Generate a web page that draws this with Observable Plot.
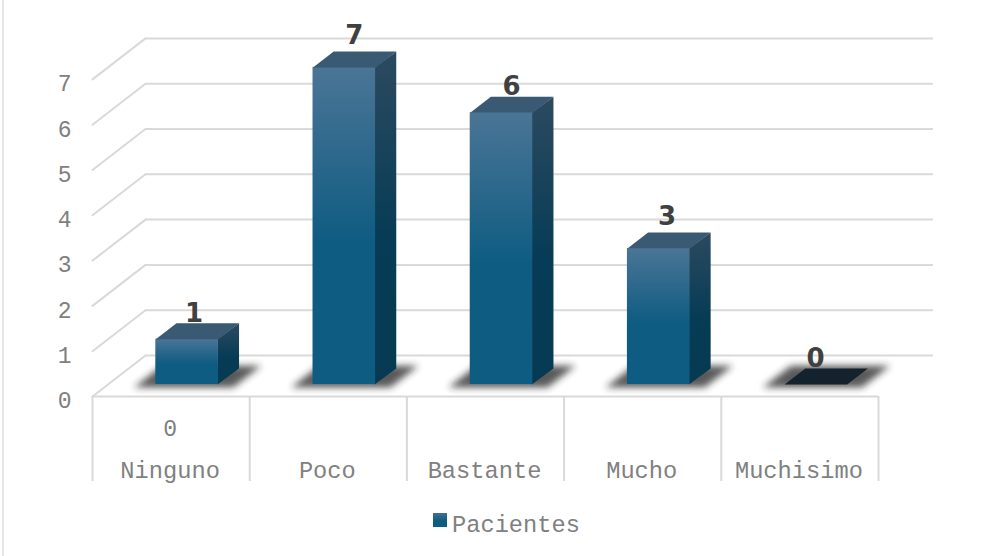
<!DOCTYPE html>
<html><head><meta charset="utf-8">
<script src="https://cdn.jsdelivr.net/npm/d3@7"></script>
<script src="https://cdn.jsdelivr.net/npm/@observablehq/plot@0.6"></script>
<style>
html,body{margin:0;padding:0;background:#fff;}
#page{position:relative;width:999px;height:556px;overflow:hidden;}
#edge{position:absolute;left:2px;top:0;bottom:0;width:2px;background:#e6e6e6;}
svg{display:block;}
#legend{position:absolute;left:433px;top:512px;display:flex;align-items:center;font:23.7px "Liberation Mono",monospace;color:#808080;}
#legend i{display:block;width:14px;height:14px;margin-right:5px;margin-top:-11px;background:linear-gradient(#436f90,#0f5c82 55%);}
</style></head><body>
<div id="page"><div id="edge"></div><div id="chart"></div>
<div id="legend"><i></i><span>Pacientes</span></div></div>
<script>
const categories = ["Ninguno","Poco","Bastante","Mucho","Muchisimo"];
const pacientes = [1,7,6,3,0];
const valueTicks = [0,1,2,3,4,5,6,7];
const seriesName = "Pacientes";
const zeroRow = ["0"];

// oblique projection: depth d in [0,1] moves a point up and to the right
const KX = 53/157.2, KY = 41/45.3;
const P = (u,v,d) => ({x:u+d*KX, y:v+d*KY});
const BAR0=0.304, BAR1=0.702, D0=0.293, D1=0.683;

const poly=(id,pts,extra={})=>pts.map(p=>({id,...p,...extra}));
const frontFaces=[],sideFaces=[],topFaces=[],shadows=[],slants=[];
pacientes.forEach((v,i)=>{
  const a=i+BAR0,b=i+BAR1,s=b-0.006;
  if(v>0){
    frontFaces.push({x1:P(a,0,D0).x,x2:P(b,0,D0).x,y1:P(a,0,D0).y,y2:P(a,v,D0).y});
    sideFaces.push(...poly(i,[P(s,0,D0),P(b,0,D1),P(b,v,D1),P(s,v,D0),P(s,0,D0)]));
  }
  topFaces.push(...poly(i,[P(a,v,D0),P(b,v,D0),P(b,v,D1),P(a,v,D1),P(a,v,D0)],{tone:v>0?"#3a5a73":"#14222e"}));
  const s0=i+0.19,s1=i+0.82;
  shadows.push(...poly(i,[P(s0,0,0.22),P(s1,0,0.22),P(s1,0,0.75),P(s0,0,0.75),P(s0,0,0.22)]));
});
valueTicks.forEach(v=>slants.push(...poly(v,[P(0,v,0),P(0,v,1)])));

const labelNudgeX=[-0.02,0,0,-0.01,-0.065];
const labelLift=[0.395,0.53,0.385,0.53,0.39];
const labels=pacientes.map((v,i)=>{
  const p=P(i+0.5,v,0.49);
  return {x:p.x+labelNudgeX[i],y:p.y+labelLift[i],t:String(v)};
});

const defs=()=>{
  const d=d3.create("svg:defs");
  const g=(id,stops)=>{const l=d.append("linearGradient").attr("id",id).attr("x1",0).attr("y1",0).attr("x2",0).attr("y2",1);
    stops.forEach(([o,c])=>l.append("stop").attr("offset",o).attr("stop-color",c));};
  g("gf",[[0,"#4a7596"],[0.55,"#0f5c82"],[1,"#0f5c82"]]);
  g("gs",[[0,"#2c4a60"],[0.55,"#073c56"],[1,"#063a52"]]);
  d.append("filter").attr("id","blur").attr("x","-20%").attr("y","-40%").attr("width","140%").attr("height","180%")
    .append("feGaussianBlur").attr("stdDeviation",3.6);
  return d.node();
};

const GRID="#d9d9d9", MONO='"Liberation Mono", monospace', INK="#808080";
const chart=Plot.plot({
  width:999,height:500,
  marginLeft:92,marginRight:0,marginTop:0,marginBottom:104,
  x:{type:"linear",domain:[0,907/157.2],range:[92,999]},
  y:{type:"linear",domain:[0,396/45.3],range:[396,0]},
  style:{background:"transparent",overflow:"visible"},
  marks:[
    defs,
    Plot.ruleY(valueTicks,{x1:KX,x2:5+KX+0.012,y:v=>v+KY,stroke:GRID,strokeWidth:2}),
    Plot.line(slants,{x:"x",y:"y",z:"id",stroke:GRID,strokeWidth:2}),
    Plot.ruleY([0],{x1:0,x2:5,stroke:GRID,strokeWidth:2}),
    Plot.ruleX(d3.range(6),{y1:0,y2:-85/45.3,stroke:GRID,strokeWidth:2}),
    Plot.line(shadows,{x:"x",y:"y",z:"id",fill:"#222",stroke:"none",render:(i,s,v,d,c,n)=>{const g=n(i,s,v,d,c);g.setAttribute("filter","url(#blur)");g.setAttribute("opacity","0.75");return g;}}),
    Plot.line(sideFaces,{x:"x",y:"y",z:"id",fill:"url(#gs)",stroke:"none"}),
    Plot.rect(frontFaces,{x1:"x1",x2:"x2",y1:"y1",y2:"y2",fill:"url(#gf)"}),
    Plot.line(topFaces,{x:"x",y:"y",z:"id",fill:"tone",stroke:"none"}),
    Plot.text(labels,{x:"x",y:"y",text:"t",fontSize:26,fontWeight:700,fontFamily:"DejaVu Sans",fill:"#404040"}),
    Plot.axisY({ticks:valueTicks,tickFormat:d=>String(d),anchor:"left",tickSize:0,tickPadding:21,label:null,fontSize:23,fontFamily:MONO,fill:INK,dy:4.5}),
    Plot.axisX({ticks:d3.range(5).map(i=>i+0.5),tickFormat:u=>categories[Math.floor(u)],anchor:"bottom",tickSize:0,tickPadding:65,label:null,fontSize:23.7,fontFamily:MONO,fill:INK,dx:-1}),
    Plot.text(zeroRow,{x:()=>0.5,y:()=>-32/45.3,text:d=>d,fontSize:23,fontFamily:MONO,fill:INK,dx:-1})
  ]
});
document.getElementById("chart").appendChild(chart);
</script>
</body></html>
